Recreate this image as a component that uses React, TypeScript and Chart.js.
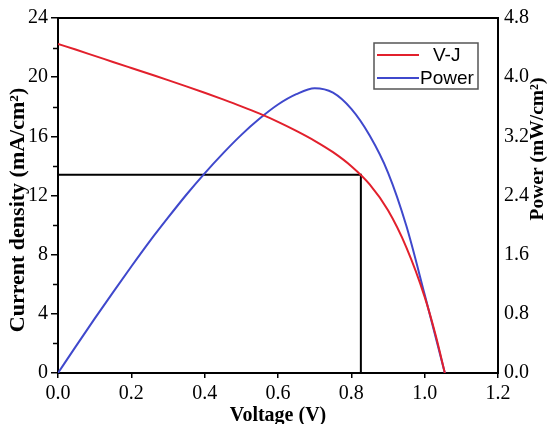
import { useEffect, useRef } from 'react';
import { Chart, registerables } from 'chart.js';

Chart.register(...registerables);

// V-J curve
const vjVoltage = [0, 0.05, 0.1, 0.15, 0.2, 0.25, 0.3, 0.35, 0.4, 0.45, 0.5, 0.55, 0.6, 0.65, 0.7, 0.75, 0.8, 0.85, 0.9, 0.95, 1.0, 1.03, 1.055];
const vjCurrent = [22.25, 21.85, 21.44, 21.03, 20.62, 20.21, 19.8, 19.38, 18.95, 18.5, 18.03, 17.53, 16.98, 16.37, 15.7, 14.93, 13.98, 12.75, 11.0, 8.5, 5.15, 2.55, 0];

// Power curve
const powerVoltage = [0, 0.05, 0.1, 0.15, 0.2, 0.25, 0.3, 0.35, 0.4, 0.45, 0.5, 0.55, 0.6, 0.65, 0.7, 0.75, 0.8, 0.85, 0.9, 0.95, 1.0, 1.055];
const powerValues = [0, 0.37, 0.735, 1.09, 1.44, 1.78, 2.1, 2.41, 2.7, 2.97, 3.22, 3.44, 3.63, 3.77, 3.85, 3.79, 3.57, 3.21, 2.71, 1.99, 1.06, 0];

// Maximum power point guide lines
const mppVoltage = 0.826;
const mppCurrent = 13.4;

const legendLabels = ['V-J', 'Power'];
const xTitle = 'Voltage (V)';
const yTitle = 'Current density (mA/cm\u00B2)';
const y1Title = 'Power (mW/cm\u00B2)';

const RED = '#e2202c';
const BLUE = '#3f48cc';
const SERIF = '"Liberation Serif", "Times New Roman", serif';
const SANS = '"Liberation Sans", Arial, sans-serif';

const decorPlugin = {
  id: 'decor',
  afterDraw(chart: any) {
    const { ctx, chartArea } = chart;
    const { left, right, top } = chartArea;
    ctx.save();
    // top border
    ctx.strokeStyle = '#000';
    ctx.lineWidth = 2;
    ctx.beginPath();
    ctx.moveTo(left - 1, top);
    ctx.lineTo(right + 1, top);
    ctx.stroke();
    // minor ticks on left axis
    const ys = chart.scales.y;
    ctx.lineWidth = 1.5;
    for (let v = 2; v < 24; v += 4) {
      const py = Math.round(ys.getPixelForValue(v)) + 0.5;
      ctx.beginPath();
      ctx.moveTo(left - 5, py);
      ctx.lineTo(left, py);
      ctx.stroke();
    }
    // legend
    const bx = right - 124, by = top + 25, bw = 104, bh = 46;
    ctx.strokeStyle = '#555';
    ctx.lineWidth = 1.5;
    ctx.strokeRect(bx, by, bw, bh);
    const ds = chart.data.datasets;
    const rows = [by + 12, by + 35];
    for (let i = 0; i < 2; i++) {
      ctx.strokeStyle = ds[i].borderColor;
      ctx.lineWidth = 2;
      ctx.beginPath();
      ctx.moveTo(bx + 3, rows[i]);
      ctx.lineTo(bx + 45, rows[i]);
      ctx.stroke();
    }
    ctx.fillStyle = '#000';
    ctx.font = `19px ${SANS}`;
    ctx.textBaseline = 'middle';
    ctx.textAlign = 'left';
    ctx.fillText(legendLabels[0], bx + 59, rows[0] + 1);
    ctx.fillText(legendLabels[1], bx + 46, rows[1] + 1);
    // axis titles
    ctx.font = `bold 20px ${SERIF}`;
    ctx.textBaseline = 'alphabetic';
    ctx.textAlign = 'center';
    ctx.fillText(xTitle, (left + right) / 2, 421);
    ctx.save();
    ctx.translate(24, 210);
    ctx.rotate(-Math.PI / 2);
    ctx.font = `bold 22px ${SERIF}`;
    ctx.fillText(yTitle, 0, 0);
    ctx.restore();
    ctx.save();
    ctx.translate(543, 149);
    ctx.rotate(-Math.PI / 2);
    ctx.font = `bold 19.5px ${SERIF}`;
    ctx.fillText(y1Title, 0, 0);
    ctx.restore();
    ctx.restore();
  },
};

export default function App() {
  const canvasRef = useRef<HTMLCanvasElement | null>(null);

  useEffect(() => {
    if (!canvasRef.current) return;
    const tickFont = { family: SERIF, size: 20 };
    const chart = new Chart(canvasRef.current, {
      type: 'line',
      data: {
        datasets: [
          {
            label: legendLabels[0],
            data: vjVoltage.map((v, i) => ({ x: v, y: vjCurrent[i] })),
            borderColor: RED,
            borderWidth: 2,
            pointRadius: 0,
            cubicInterpolationMode: 'monotone',
            yAxisID: 'y',
          },
          {
            label: legendLabels[1],
            data: powerVoltage.map((v, i) => ({ x: v, y: powerValues[i] })),
            borderColor: BLUE,
            borderWidth: 2,
            pointRadius: 0,
            cubicInterpolationMode: 'monotone',
            yAxisID: 'y1',
          },
          {
            label: 'MPP',
            data: [
              { x: 0, y: mppCurrent },
              { x: mppVoltage, y: mppCurrent },
              { x: mppVoltage, y: 0 },
            ],
            borderColor: '#000',
            borderWidth: 2,
            pointRadius: 0,
            tension: 0,
            yAxisID: 'y',
          },
        ],
      },
      options: {
        animation: false,
        responsive: true,
        maintainAspectRatio: false,
        layout: { padding: { top: 16, left: 0, right: 0, bottom: 0 } },
        plugins: { legend: { display: false }, tooltip: { enabled: false } },
        scales: {
          x: {
            type: 'linear',
            min: 0,
            max: 1.2,
            ticks: {
              stepSize: 0.2,
              font: tickFont,
              color: '#000',
              padding: 4,
              maxRotation: 0,
              callback: (v: any) => Number(v).toFixed(1),
            },
            grid: { drawOnChartArea: false, color: '#000', lineWidth: 1.5, tickLength: 5 },
            border: { color: '#000', width: 2 },
            afterFit: (s: any) => { s.height = 51; },
          },
          y: {
            type: 'linear',
            position: 'left',
            min: 0,
            max: 24,
            ticks: { stepSize: 4, font: tickFont, color: '#000', padding: 3 },
            grid: { drawOnChartArea: false, color: '#000', lineWidth: 1.5, tickLength: 7 },
            border: { color: '#000', width: 2 },
            afterFit: (s: any) => { s.width = 58; },
          },
          y1: {
            type: 'linear',
            position: 'right',
            min: 0,
            max: 4.8,
            ticks: {
              stepSize: 0.8,
              font: tickFont,
              color: '#000',
              padding: 6,
              callback: (v: any) => Number(v).toFixed(1),
            },
            grid: { drawOnChartArea: false, drawTicks: false },
            border: { color: '#000', width: 2 },
            afterFit: (s: any) => { s.width = 55; },
          },
        },
      },
      plugins: [decorPlugin],
    } as any);
    return () => chart.destroy();
  }, []);

  return (
    <div style={{ position: 'absolute', left: 0, top: 0, width: 553, height: 424, background: '#fff' }}>
      <canvas ref={canvasRef} />
    </div>
  );
}
